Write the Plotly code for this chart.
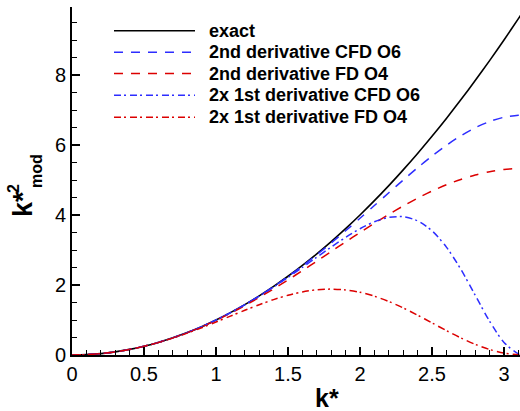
import plotly.graph_objects as go

# k* samples
k = [0.0, 0.1, 0.2, 0.3, 0.4, 0.5, 0.6, 0.7, 0.8, 0.9, 1.0, 1.1, 1.2, 1.3, 1.4, 1.5,
     1.6, 1.7, 1.8, 1.9, 2.0, 2.1, 2.2, 2.3, 2.4, 2.5, 2.6, 2.7, 2.8, 2.9, 3.0, 3.1, 3.1416]

exact = [0.0, 0.01, 0.04, 0.09, 0.16, 0.25, 0.36, 0.49, 0.64, 0.81, 1.0, 1.21, 1.44, 1.69,
         1.96, 2.25, 2.56, 2.89, 3.24, 3.61, 4.0, 4.41, 4.84, 5.29, 5.76, 6.25, 6.76, 7.29,
         7.84, 8.41, 9.0, 9.61, 9.8696]

cfd2_o6 = [0.0, 0.01, 0.04, 0.09, 0.16, 0.25, 0.36, 0.49, 0.6399, 0.8099, 0.9997, 1.2093,
           1.4386, 1.6873, 1.9550, 2.2412, 2.5450, 2.8654, 3.2006, 3.5486, 3.9064, 4.2705,
           4.6362, 4.9981, 5.3495, 5.6831, 5.9905, 6.2632, 6.4928, 6.6714, 6.7925, 6.8516,
           6.8571]

fd2_o4 = [0.0, 0.01, 0.04, 0.09, 0.16, 0.2498, 0.3595, 0.4888, 0.6372, 0.8045, 0.9898,
          1.1923, 1.4108, 1.6439, 1.8897, 2.1464, 2.4115, 2.6824, 2.9564, 3.2303, 3.5008,
          3.7646, 4.0181, 4.2581, 4.4810, 4.6837, 4.8631, 5.0166, 5.1419, 5.2368, 5.3000,
          5.3305, 5.3333]

cfd1_o6 = [0.0, 0.01, 0.04, 0.09, 0.16, 0.25, 0.36, 0.49, 0.6398, 0.8096, 0.9989, 1.2076,
           1.4351, 1.6805, 1.9422, 2.2179, 2.5041, 2.7956, 3.0847, 3.3603, 3.6076, 3.8064,
           3.9310, 3.9509, 3.8331, 3.5488, 3.0831, 2.4502, 1.7083, 0.9644, 0.3600, 0.0324,
           0.0]

fd1_o4 = [0.0, 0.01, 0.04, 0.0900, 0.1597, 0.2490, 0.3570, 0.4826, 0.6239, 0.7782, 0.9417,
          1.1099, 1.2772, 1.4372, 1.5828, 1.7069, 1.8023, 1.8627, 1.8830, 1.8597, 1.7917,
          1.6802, 1.5292, 1.3454, 1.1377, 0.9173, 0.6965, 0.4881, 0.3046, 0.1572, 0.0551,
          0.0048, 0.0]

names = ["exact", "2nd derivative CFD O6", "2nd derivative FD O4",
         "2x 1st derivative CFD O6", "2x 1st derivative FD O4"]
series = [exact, cfd2_o6, fd2_o4, cfd1_o6, fd1_o4]

BLUE = "rgb(45,45,255)"
RED = "rgb(220,0,0)"
colors = ["black", BLUE, RED, BLUE, RED]
dashes = ["solid", "9px,8px", "9px,8px", "7px,3px,2px,4px", "7px,3px,2px,4px"]
widths = [1.6, 1.5, 1.5, 1.5, 1.5]

fig = go.Figure()
for name, ys, c, d, w in zip(names, series, colors, dashes, widths):
    fig.add_trace(go.Scatter(x=k, y=ys, mode="lines", name=name,
                             line=dict(color=c, dash=d, width=w, shape="spline",
                                       smoothing=0.8),
                             showlegend=False, cliponaxis=True))

W, H = 520, 411
L, R, T, B = 72, 0, 7, 56
pw, ph = W - L - R, H - T - B


def px(xp):
    return (xp - L) / pw


def py(yp):
    return (H - B - yp) / ph


FONT = "Liberation Sans, Arial"

# manual legend (long key lines as in the reference)
leg_rows = [30.7, 52.3, 73.5, 95.2, 117.3]
for name, c, d, yr in zip(names, colors, dashes, leg_rows):
    fig.add_shape(type="line", xref="paper", yref="paper",
                  x0=px(114), x1=px(195), y0=py(yr), y1=py(yr),
                  line=dict(color=c, dash=d, width=1.6))
    fig.add_annotation(text="<b>%s</b>" % name, xref="paper", yref="paper",
                       x=px(207), y=py(yr), xanchor="left", yanchor="middle",
                       showarrow=False,
                       font=dict(family=FONT, size=18, color="black"))

# y-axis title: k*  with stacked 2 / mod
fig.add_annotation(text="<b>k*</b>", xref="paper", yref="paper", x=px(23), y=py(204),
                   xanchor="center", yanchor="middle", textangle=-90, showarrow=False,
                   font=dict(family=FONT, size=27, color="black"))
fig.add_annotation(text="<b>2</b>", xref="paper", yref="paper", x=px(13), y=py(189),
                   xanchor="center", yanchor="middle", textangle=-90, showarrow=False,
                   font=dict(family=FONT, size=16, color="black"))
fig.add_annotation(text="<b>mod</b>", xref="paper", yref="paper", x=px(36), y=py(171),
                   xanchor="center", yanchor="middle", textangle=-90, showarrow=False,
                   font=dict(family=FONT, size=16, color="black"))
# x-axis title
fig.add_annotation(text="<b>k*</b>", xref="paper", yref="paper", x=px(327), y=py(398),
                   xanchor="center", yanchor="middle", showarrow=False,
                   font=dict(family=FONT, size=25, color="black"))

axis_common = dict(showgrid=False, zeroline=False, showline=True, linecolor="black",
                   linewidth=2, ticks="inside", ticklen=8, tickwidth=1.5,
                   tickcolor="black",
                   tickfont=dict(family=FONT, size=20, color="black"))

fig.update_layout(
    width=W, height=H,
    margin=dict(l=L, r=R, t=T, b=B, pad=0),
    paper_bgcolor="white", plot_bgcolor="white",
    xaxis=dict(range=[0, pw / 144.0], tickvals=[0, 0.5, 1, 1.5, 2, 2.5, 3],
               ticktext=["0", "0.5", "1", "1.5", "2", "2.5", "3"],
               minor=dict(dtick=0.1, tick0=0, ticks="inside", ticklen=5, tickwidth=1,
                          tickcolor="black"),
               **axis_common),
    yaxis=dict(range=[0, ph / 35.0], tickvals=[0, 2, 4, 6, 8],
               ticktext=["0", "2", "4", "6", "8"],
               minor=dict(dtick=0.5, tick0=0, ticks="inside", ticklen=5, tickwidth=1,
                          tickcolor="black"),
               **axis_common),
)

fig.write_html("out.html")
